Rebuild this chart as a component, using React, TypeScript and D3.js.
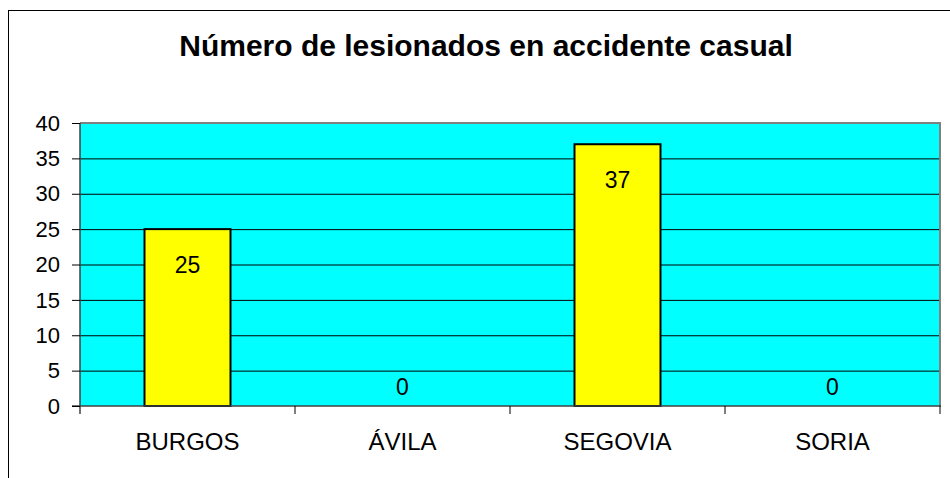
import React from "react";
import { scaleBand, scaleLinear } from "d3";

const categories = ["BURGOS", "ÁVILA", "SEGOVIA", "SORIA"];
const values = [25, 0, 37, 0];
const yTicks = [0, 5, 10, 15, 20, 25, 30, 35, 40];
const title = "Número de lesionados en accidente casual";

const W = 950;
const H = 478;
const plot = { left: 80, top: 123, right: 940, bottom: 406 };
const font = "Liberation Sans, Arial, sans-serif";

export default function App() {
  const x = scaleBand<string>()
    .domain(categories)
    .range([plot.left, plot.right])
    .paddingInner(0.6)
    .paddingOuter(0.3);

  const y = scaleLinear().domain([0, 40]).range([plot.bottom, plot.top]);
  const step = x.step();

  // Excel puts the labels a bit below the top of the bar
  const labelY = (v: number) => (v > 0 ? y(v) + 44 : y(0) - 11);

  return (
    <svg
      width={W}
      height={H}
      style={{ position: "absolute", left: 0, top: 0, background: "#fff" }}
      fontFamily={font}
    >
      <rect x={8.5} y={10.5} width={980} height={500} fill="none" stroke="#000" strokeWidth={1} />

      <text x={486} y={56} textAnchor="middle" fontSize={30} fontWeight="bold">
        {title}
      </text>

      <rect
        x={plot.left}
        y={plot.top}
        width={plot.right - plot.left}
        height={plot.bottom - plot.top}
        fill="#00ffff"
      />

      {yTicks.slice(1, -1).map((t) => (
        <line key={`g-${t}`} x1={plot.left} x2={plot.right} y1={y(t) + 0.5} y2={y(t) + 0.5} stroke="#000" />
      ))}

      {/* plot border, gray on top and right */}
      <line x1={plot.left} x2={plot.right + 1} y1={plot.top} y2={plot.top} stroke="#808080" strokeWidth={2} />
      <line x1={plot.right} x2={plot.right} y1={plot.top} y2={plot.bottom} stroke="#808080" strokeWidth={2} />

      {categories.map((c, i) => (
        <rect
          key={`bar-${c}`}
          x={x(c)}
          y={y(values[i])}
          width={x.bandwidth()}
          height={plot.bottom - y(values[i])}
          fill="#ffff00"
          stroke="#000"
          strokeWidth={2}
        />
      ))}

      {/* axes */}
      <line x1={plot.left} x2={plot.left} y1={plot.top} y2={plot.bottom + 8} stroke="#404040" strokeWidth={1.5} />
      <line x1={plot.left - 8} x2={plot.right + 1} y1={plot.bottom} y2={plot.bottom} stroke="#404040" strokeWidth={1.5} />
      {yTicks.map((t) => (
        <g key={`yt-${t}`}>
          <line x1={plot.left - 8} x2={plot.left} y1={y(t) + 0.5} y2={y(t) + 0.5} stroke="#000" />
          <text x={60} y={y(t)} dy="0.35em" textAnchor="end" fontSize={22}>
            {t}
          </text>
        </g>
      ))}
      {categories.map((c) => (
        <line
          key={`xt-${c}`}
          x1={(x(c) ?? 0) + x.bandwidth() / 2 + step / 2}
          x2={(x(c) ?? 0) + x.bandwidth() / 2 + step / 2}
          y1={plot.bottom}
          y2={plot.bottom + 8}
          stroke="#000"
        />
      ))}
      {categories.map((c) => (
        <text key={`xl-${c}`} x={(x(c) ?? 0) + x.bandwidth() / 2} y={450} textAnchor="middle" fontSize={24}>
          {c}
        </text>
      ))}

      {categories.map((c, i) => (
        <text
          key={`vl-${c}`}
          x={(x(c) ?? 0) + x.bandwidth() / 2}
          y={labelY(values[i])}
          textAnchor="middle"
          fontSize={23}
        >
          {values[i]}
        </text>
      ))}
    </svg>
  );
}
